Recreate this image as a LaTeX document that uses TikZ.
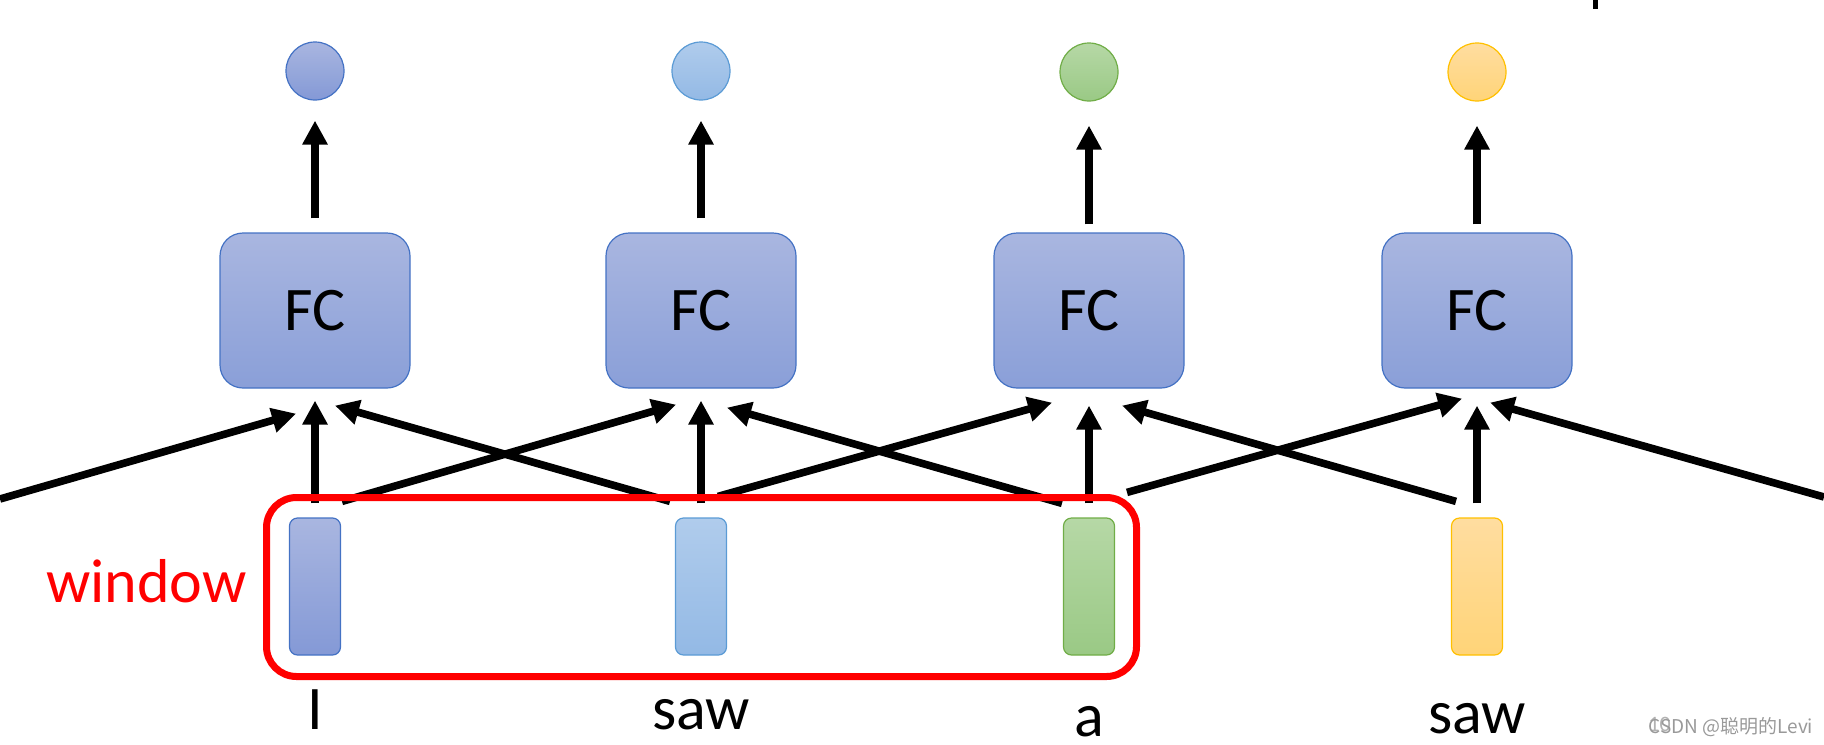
\documentclass[tikz,border=0pt]{standalone}
\usepackage{fontspec}
\setmainfont{Carlito}
\newfontfamily\cjk{Noto Sans CJK SC}
\usepackage{tikz}
\usetikzlibrary{arrows.meta}
\definecolor{fcline}{HTML}{4472C4}
\definecolor{fctop}{HTML}{A9B6E0}
\definecolor{fcbot}{HTML}{8A9FD8}
\definecolor{c1line}{HTML}{4472C4}
\definecolor{c1top}{HTML}{A9B6E0}
\definecolor{c1bot}{HTML}{8499D6}
\definecolor{c2line}{HTML}{5B9BD5}
\definecolor{c2top}{HTML}{B0CCEC}
\definecolor{c2bot}{HTML}{93B9E5}
\definecolor{c3line}{HTML}{70AD47}
\definecolor{c3top}{HTML}{B6D8A6}
\definecolor{c3bot}{HTML}{9AC985}
\definecolor{c4line}{HTML}{FFC000}
\definecolor{c4top}{HTML}{FFDDA0}
\definecolor{c4bot}{HTML}{FFD478}

\begin{document}
\begin{tikzpicture}[x=0.5pt,y=-0.5pt]
\useasboundingbox (0,0) rectangle (1824,744);
\tikzstyle{fcbox}=[draw=fcline,line width=0.6pt,top color=fctop,bottom color=fcbot,rounded corners=11.5pt,minimum width=95pt,minimum height=77.5pt,font=\fontsize{31pt}{37pt}\selectfont]
\tikzstyle{outdot}=[circle,line width=0.6pt,minimum size=29pt,inner sep=0pt]
\tikzstyle{vecbar}=[line width=0.6pt,rounded corners=4pt,minimum width=25.5pt,minimum height=68.5pt,inner sep=0pt]
\tikzstyle{word}=[anchor=base,inner sep=0pt,font=\fontsize{31pt}{37pt}\selectfont]
\tikzstyle{link}=[line width=3.8pt,-{Triangle[length=12pt,width=12pt]}]
\tikzstyle{winbox}=[draw=red,line width=3.5pt,rounded corners=15pt,minimum width=435pt,minimum height=89.5pt]

% outputs
\node[outdot,draw=c1line,top color=c1top,bottom color=c1bot] (o1) at (315,71) {};
\node[outdot,draw=c2line,top color=c2top,bottom color=c2bot] (o2) at (701,71) {};
\node[outdot,draw=c3line,top color=c3top,bottom color=c3bot] (o3) at (1089,72) {};
\node[outdot,draw=c4line,top color=c4top,bottom color=c4bot] (o4) at (1477,72) {};

% FC layers
\node[fcbox] (fc1) at (315,310.5) {FC};
\node[fcbox] (fc2) at (701,310.5) {FC};
\node[fcbox] (fc3) at (1089,310.5) {FC};
\node[fcbox] (fc4) at (1477,310.5) {FC};

% input vectors
\node[vecbar,draw=c1line,top color=c1top,bottom color=c1bot] (bar1) at (315,586.5) {};
\node[vecbar,draw=c2line,top color=c2top,bottom color=c2bot] (bar2) at (701,586.5) {};
\node[vecbar,draw=c3line,top color=c3top,bottom color=c3bot] (bar3) at (1089,586.5) {};
\node[vecbar,draw=c4line,top color=c4top,bottom color=c4bot] (bar4) at (1477,586.5) {};

\node[word] (w1) at (315,729) {I};
\node[word] (w2) at (701,729) {saw};
\node[word] (w3) at (1089,736) {a};
\node[word] (w4) at (1477,733) {saw};

\coordinate (edgeL) at (0,499);
\coordinate (edgeR) at (1824,497);

% FC -> output
\draw[link,shorten <=7pt,shorten >=10pt] (fc1) -- (o1);
\draw[link,shorten <=7pt,shorten >=10pt] (fc2) -- (o2);
\draw[link,shorten <=4pt,shorten >=12pt] (fc3) -- (o3);
\draw[link,shorten <=4pt,shorten >=12pt] (fc4) -- (o4);

% input -> FC
\draw[link,shorten <=7pt,shorten >=6pt] (bar1) -- (fc1);
\draw[link,shorten <=7pt,shorten >=6pt] (bar2) -- (fc2);
\draw[link,shorten <=7pt,shorten >=8.5pt] (bar3) -- (fc3);
\draw[link,shorten <=7pt,shorten >=8.5pt] (bar4) -- (fc4);

\draw[link] (edgeL) -- ([xshift=-9.5pt,yshift=-12.5pt]fc1.south);
\draw[link] ([xshift=13.5pt,yshift=8pt]bar1.north) -- ([xshift=-12.5pt,yshift=-8pt]fc2.south);
\draw[link] ([xshift=-15.5pt,yshift=8pt]bar2.north) -- ([xshift=10pt,yshift=-8.5pt]fc1.south);
\draw[link] ([xshift=8.5pt,yshift=10.5pt]bar2.north) -- ([xshift=-18.5pt,yshift=-7pt]fc3.south);
\draw[link] ([xshift=-13.5pt,yshift=7pt]bar3.north) -- ([xshift=13pt,yshift=-9.5pt]fc2.south);
\draw[link] ([xshift=19pt,yshift=12.5pt]bar3.north) -- ([xshift=-7.5pt,yshift=-5pt]fc4.south);
\draw[link] ([xshift=-10.5pt,yshift=8pt]bar4.north) -- ([xshift=16.5pt,yshift=-8.5pt]fc3.south);
\draw[link] (edgeR) -- ([xshift=6.5pt,yshift=-7pt]fc4.south);

% window
\node[winbox] (win) at (701.5,587) {};
\node[word,text=red] (winlabel) at (146.5,602) {window};

\draw[line width=2.5pt] (1595,0) -- (1595,9);
\node[anchor=base west,inner sep=0pt,text=gray!60,font=\fontsize{11pt}{13pt}\selectfont] (page) at (1648,731) {10};
\node[anchor=base west,inner sep=0pt,text=gray!80,font=\cjk\fontsize{9.5pt}{11pt}\selectfont] (mark) at (1648,733) {CSDN @聪明的Levi};
\end{tikzpicture}
\end{document}
